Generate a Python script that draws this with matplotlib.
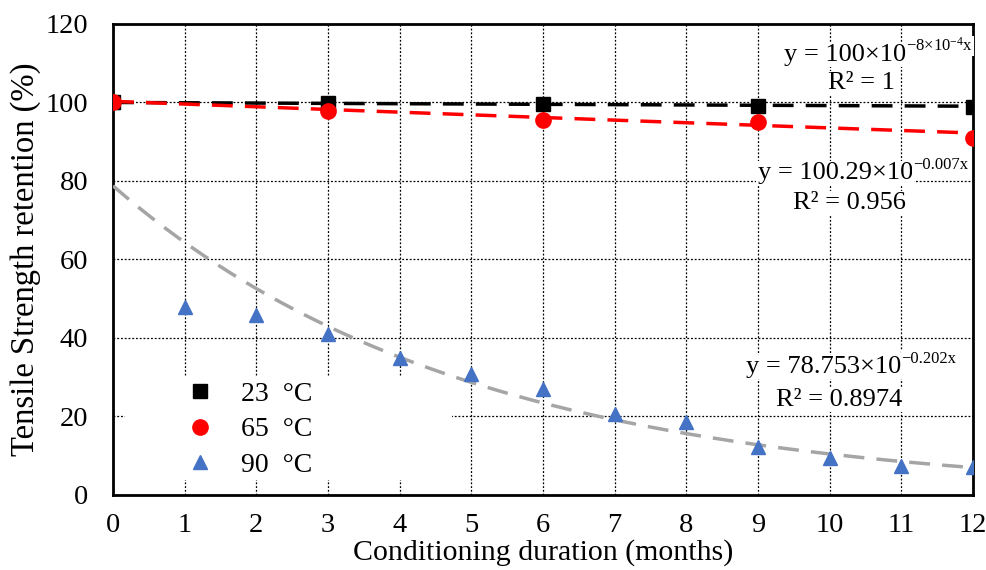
import numpy as np
import matplotlib
matplotlib.use('Agg')
import matplotlib.pyplot as plt
from matplotlib.patches import Rectangle

plt.rcParams['font.family'] = ['Liberation Serif', 'DejaVu Serif']
plt.rcParams['mathtext.fontset'] = 'custom'
plt.rcParams['mathtext.rm'] = 'Liberation Serif'
plt.rcParams['mathtext.it'] = 'Liberation Serif'

# data
months_a = [0, 3, 6, 9, 12]
t23 = [100.0, 99.9, 99.6, 99.2, 98.9]
t65 = [100.0, 97.8, 95.6, 95.1, 91.0]
months_b = [0, 1, 2, 3, 4, 5, 6, 7, 8, 9, 10, 11, 12]
t90 = [100.0, 47.9, 45.9, 41.0, 35.0, 30.7, 26.9, 20.7, 18.7, 12.1, 9.3, 7.5, 7.1]

# exponential fits y = a*exp(b*x)
fit_a = [100.0, 100.29, 78.753]
fit_b = [-8e-4, -0.007, -0.202]
fit_col = ['black', '#ff0000', '#a5a5a5']
eq_main = ['y = 100×10', 'y = 100.29×10', 'y = 78.753×10']
eq_sup = [r'$-8×10^{-4}x$', '−0.007x', '−0.202x']
eq_r2 = ['R² = 1', 'R² = 0.956', 'R² = 0.8974']
eq_pos = [(10.22, 112.1), (10.08, 82.0), (9.92, 32.6)]
r2_pos = [(10.45, 105.0), (10.27, 74.4), (10.13, 24.2)]

fig = plt.figure(figsize=(9.87, 5.70), dpi=100)
ax = fig.add_axes([0.1145, 0.1316, 0.8713, 0.8264])

ax.grid(True, color='black', linestyle=(0, (1.5, 1.5)), linewidth=0.9)
ax.set_axisbelow(True)

xs = np.linspace(0, 12, 200)
for a, b, c in zip(fit_a, fit_b, fit_col):
    ax.plot(xs, a*np.exp(b*xs), color=c, linestyle=(0, (6, 3.5)), linewidth=2.5, zorder=3)

ax.plot(months_b, t90, '^', color='#4472c4', markersize=10, label='90  °C', zorder=4)
ax.plot(months_a, t65, 'o', color='#ff0000', markersize=11, label='65  °C', zorder=5)
ax.plot(months_a, t23, 's', color='black', markersize=10, label='23  °C', zorder=4)

box = dict(facecolor='white', edgecolor='none', pad=1)
for m, s, r, p, q in zip(eq_main, eq_sup, eq_r2, eq_pos, r2_pos):
    t = ax.text(p[0], p[1], m, ha='center', va='center', fontsize=19,
                bbox=box, zorder=10, clip_on=False)
    ax.annotate(s, xy=(1.0, 0.5), xycoords=t, ha='left', va='bottom', fontsize=12,
                bbox=dict(facecolor='white', edgecolor='none', pad=0.5), zorder=11,
                annotation_clip=False)
    ax.text(q[0], q[1], r, ha='center', va='center', fontsize=19,
            bbox=box, zorder=10, clip_on=False)

# white box behind legend
ax.add_patch(Rectangle((0.014, 0.032), 0.38, 0.218, transform=ax.transAxes,
                       facecolor='white', edgecolor='none', zorder=2))
h, l = ax.get_legend_handles_labels()
ax.legend(h[::-1], l[::-1], loc='lower left', bbox_to_anchor=(0.062, -0.005), frameon=False,
          fontsize=20, handletextpad=1.0, labelspacing=0.36, borderpad=0.2, handlelength=1.0)

ax.set_xlim(0, 12)
ax.set_ylim(0, 120)
ax.set_xticks(range(0, 13))
ax.set_yticks(range(0, 121, 20))
ax.tick_params(length=0, labelsize=20.5)
ax.tick_params(axis='y', pad=18)
ax.tick_params(axis='x', pad=13)
for sp in ax.spines.values():
    sp.set_linewidth(2)
ax.set_xlabel('Conditioning duration (months)', fontsize=21.5, labelpad=1)
ax.set_ylabel('Tensile Strength retention (%)', fontsize=23.5, labelpad=3)

fig.savefig('out.png', dpi=100)
